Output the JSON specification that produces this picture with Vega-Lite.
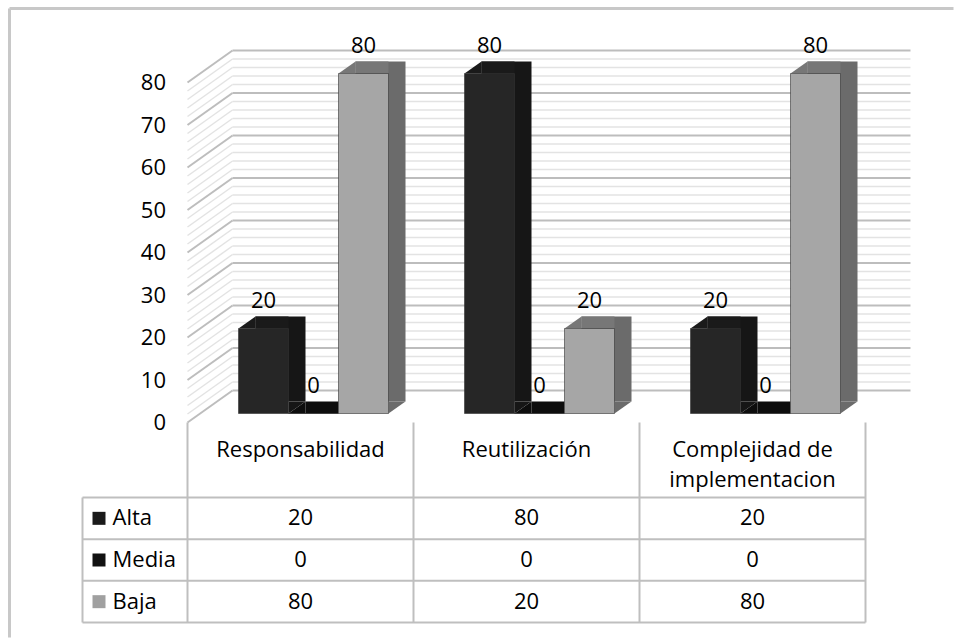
{
  "$schema": "https://vega.github.io/schema/vega-lite/v6.json",
  "padding": {"left": 7.5, "top": 6.5, "right": 0, "bottom": 0},
  "background": "white",
  "config": {"view": {"stroke": null}, "font": "Open Sans"},
  "datasets": {
    "scores": [
      {"category": "Responsabilidad", "series": "Alta", "value": 20},
      {"category": "Responsabilidad", "series": "Media", "value": 0},
      {"category": "Responsabilidad", "series": "Baja", "value": 80},
      {"category": "Reutilización", "series": "Alta", "value": 80},
      {"category": "Reutilización", "series": "Media", "value": 0},
      {"category": "Reutilización", "series": "Baja", "value": 20},
      {"category": "Complejidad de implementacion", "series": "Alta", "value": 20},
      {"category": "Complejidad de implementacion", "series": "Media", "value": 0},
      {"category": "Complejidad de implementacion", "series": "Baja", "value": 80}
    ],
    "grid": [
      {"g": 0}, {"g": 2}, {"g": 4}, {"g": 6}, {"g": 8}, {"g": 10}, {"g": 12}, {"g": 14}, {"g": 16}, {"g": 18},
      {"g": 20}, {"g": 22}, {"g": 24}, {"g": 26}, {"g": 28}, {"g": 30}, {"g": 32}, {"g": 34}, {"g": 36}, {"g": 38},
      {"g": 40}, {"g": 42}, {"g": 44}, {"g": 46}, {"g": 48}, {"g": 50}, {"g": 52}, {"g": 54}, {"g": 56}, {"g": 58},
      {"g": 60}, {"g": 62}, {"g": 64}, {"g": 66}, {"g": 68}, {"g": 70}, {"g": 72}, {"g": 74}, {"g": 76}, {"g": 78},
      {"g": 80}
    ]
  },
  "spacing": 75,
  "bounds": "flush",
  "vconcat": [
    {
      "width": 678,
      "height": 340,
      "resolve": {"scale": {"xOffset": "independent", "color": "independent"}},
      "layer": [
        {
          "data": {"name": "grid"},
          "mark": {"type": "rule", "xOffset": 45, "x2Offset": 45, "yOffset": -32},
          "encoding": {
            "x": {"datum": "Responsabilidad", "bandPosition": 0, "title": null,
              "scale": {"domain": ["Responsabilidad", "Reutilización", "Complejidad de implementacion"], "paddingInner": 0, "paddingOuter": 0},
              "axis": {"orient": "bottom", "domain": false, "ticks": false, "grid": false, "labelAngle": 0, "labelFontSize": 22, "labelColor": "#000000", "labelPadding": 17, "labelBaseline": "top", "labelLineHeight": 30, "labelLimit": 400,
                "labelExpr": "datum.value === 'Complejidad de implementacion' ? ['Complejidad de', 'implementacion'] : datum.value"}},
            "x2": {"datum": "Complejidad de implementacion", "bandPosition": 1},
            "y": {"field": "g", "type": "quantitative", "title": null,
              "scale": {"domain": [0, 80], "nice": false},
              "axis": {"values": [0, 10, 20, 30, 40, 50, 60, 70, 80], "domain": false, "ticks": false, "grid": false, "labelFontSize": 22, "labelColor": "#000000", "labelPadding": 22}},
            "color": {"condition": {"test": "datum.g % 10 === 0", "value": "#bdbdbd"}, "value": "#e3e3e3"},
            "strokeWidth": {"condition": {"test": "datum.g % 10 === 0", "value": 2}, "value": 1.5}
          }
        },
        {
          "data": {"name": "grid"},
          "mark": {"type": "rule", "x2Offset": 45, "y2Offset": -32},
          "encoding": {
            "x": {"datum": "Responsabilidad", "bandPosition": 0, "title": null},
            "x2": {"datum": "Responsabilidad", "bandPosition": 0},
            "y": {"field": "g", "type": "quantitative", "title": null},
            "y2": {"field": "g"},
            "color": {"condition": {"test": "datum.g % 10 === 0", "value": "#bdbdbd"}, "value": "#e3e3e3"},
            "strokeWidth": {"condition": {"test": "datum.g % 10 === 0", "value": 2}, "value": 1.5}
          }
        },
        {
          "data": {"name": "scores"},
          "mark": {"type": "bar", "yOffset": -21, "y2Offset": -21},
          "encoding": {
            "x": {"field": "category", "type": "nominal", "title": null},
            "xOffset": {"field": "series", "type": "nominal", "scale": {"domain": ["Alta", "Media", "Baja"], "range": [68, 218], "paddingInner": 0, "paddingOuter": 0}},
            "y": {"field": "value", "type": "quantitative", "title": null},
            "y2": {"datum": 0},
            "color": {"field": "series", "type": "nominal", "legend": null, "scale": {"domain": ["Alta", "Media", "Baja"], "range": ["#161616", "#0a0a0a", "#6b6b6b"]}}
          }
        },
        {
          "data": {"name": "scores"},
          "mark": {"type": "bar", "width": 33, "yOffset": -21, "y2Offset": -9},
          "encoding": {
            "x": {"field": "category", "type": "nominal", "title": null},
            "xOffset": {"field": "series", "type": "nominal", "scale": {"domain": ["Alta", "Media", "Baja"], "range": [59.5, 209.5], "paddingInner": 0, "paddingOuter": 0}},
            "y": {"field": "value", "type": "quantitative", "title": null},
            "y2": {"field": "value"},
            "color": {"field": "series", "type": "nominal", "legend": null, "scale": {"domain": ["Alta", "Media", "Baja"], "range": ["#1a1a1a", "#0d0d0d", "#777777"]}}
          }
        },
        {
          "data": {"name": "scores"},
          "transform": [{"filter": "datum.series === 'Alta'"}],
          "mark": {"type": "point", "shape": "M-1,0.706L1,-0.706L1,0.706Z", "size": 289, "filled": true, "opacity": 1, "strokeWidth": 0, "color": "#1a1a1a", "xOffset": 59.5, "yOffset": -15},
          "encoding": {
            "x": {"field": "category", "type": "nominal", "bandPosition": 0, "title": null},
            "y": {"field": "value", "type": "quantitative", "title": null}
          }
        },
        {
          "data": {"name": "scores"},
          "transform": [{"filter": "datum.series === 'Media'"}],
          "mark": {"type": "point", "shape": "M-1,0.706L1,-0.706L1,0.706Z", "size": 289, "filled": true, "opacity": 1, "strokeWidth": 0, "color": "#0d0d0d", "xOffset": 109.5, "yOffset": -15},
          "encoding": {
            "x": {"field": "category", "type": "nominal", "bandPosition": 0, "title": null},
            "y": {"field": "value", "type": "quantitative", "title": null}
          }
        },
        {
          "data": {"name": "scores"},
          "transform": [{"filter": "datum.series === 'Baja'"}],
          "mark": {"type": "point", "shape": "M-1,0.706L1,-0.706L1,0.706Z", "size": 289, "filled": true, "opacity": 1, "strokeWidth": 0, "color": "#777777", "xOffset": 159.5, "yOffset": -15},
          "encoding": {
            "x": {"field": "category", "type": "nominal", "bandPosition": 0, "title": null},
            "y": {"field": "value", "type": "quantitative", "title": null}
          }
        },
        {
          "data": {"name": "scores"},
          "transform": [{"filter": "datum.series === 'Alta'"}],
          "mark": {"type": "point", "shape": "M-1,-0.706L1,-0.706L-1,0.706Z", "size": 289, "filled": true, "opacity": 1, "strokeWidth": 0, "color": "#161616", "xOffset": 109.5, "yOffset": -15},
          "encoding": {
            "x": {"field": "category", "type": "nominal", "bandPosition": 0, "title": null},
            "y": {"datum": 0, "title": null}
          }
        },
        {
          "data": {"name": "scores"},
          "transform": [{"filter": "datum.series === 'Baja'"}],
          "mark": {"type": "point", "shape": "M-1,-0.706L1,-0.706L-1,0.706Z", "size": 289, "filled": true, "opacity": 1, "strokeWidth": 0, "color": "#6b6b6b", "xOffset": 209.5, "yOffset": -15},
          "encoding": {
            "x": {"field": "category", "type": "nominal", "bandPosition": 0, "title": null},
            "y": {"datum": 0, "title": null}
          }
        },
        {
          "data": {"name": "scores"},
          "mark": {"type": "bar", "yOffset": -9, "y2Offset": -9, "stroke": "#333333", "strokeWidth": 0.6},
          "encoding": {
            "x": {"field": "category", "type": "nominal", "title": null},
            "xOffset": {"field": "series", "type": "nominal", "scale": {"domain": ["Alta", "Media", "Baja"], "range": [51, 201], "paddingInner": 0, "paddingOuter": 0}},
            "y": {"field": "value", "type": "quantitative", "title": null},
            "y2": {"datum": 0},
            "color": {"field": "series", "type": "nominal", "legend": null, "scale": {"domain": ["Alta", "Media", "Baja"], "range": ["#262626", "#111111", "#a6a6a6"]}}
          }
        },
        {
          "data": {"name": "scores"},
          "transform": [{"filter": "datum.series === 'Alta'"}],
          "mark": {"type": "text", "xOffset": 76, "yOffset": -30, "fontSize": 22, "color": "#000000", "baseline": "alphabetic", "align": "center"},
          "encoding": {
            "x": {"field": "category", "type": "nominal", "bandPosition": 0, "title": null},
            "y": {"field": "value", "type": "quantitative", "title": null},
            "text": {"field": "value", "type": "quantitative"}
          }
        },
        {
          "data": {"name": "scores"},
          "transform": [{"filter": "datum.series === 'Media'"}],
          "mark": {"type": "text", "xOffset": 126, "yOffset": -30, "fontSize": 22, "color": "#000000", "baseline": "alphabetic", "align": "center"},
          "encoding": {
            "x": {"field": "category", "type": "nominal", "bandPosition": 0, "title": null},
            "y": {"field": "value", "type": "quantitative", "title": null},
            "text": {"field": "value", "type": "quantitative"}
          }
        },
        {
          "data": {"name": "scores"},
          "transform": [{"filter": "datum.series === 'Baja'"}],
          "mark": {"type": "text", "xOffset": 176, "yOffset": -30, "fontSize": 22, "color": "#000000", "baseline": "alphabetic", "align": "center"},
          "encoding": {
            "x": {"field": "category", "type": "nominal", "bandPosition": 0, "title": null},
            "y": {"field": "value", "type": "quantitative", "title": null},
            "text": {"field": "value", "type": "quantitative"}
          }
        },
        {
          "data": {"values": [{}]},
          "mark": {"type": "rule", "xOffset": -178, "x2Offset": 88, "yOffset": -74, "color": "#c8c8c8", "strokeWidth": 3},
          "encoding": {
            "x": {"datum": "Responsabilidad", "bandPosition": 0, "title": null},
            "x2": {"datum": "Complejidad de implementacion", "bandPosition": 1},
            "y": {"datum": 80, "title": null}
          }
        },
        {
          "data": {"values": [{}]},
          "mark": {"type": "rule", "xOffset": -178, "yOffset": -74, "y2Offset": 215, "color": "#c8c8c8", "strokeWidth": 3},
          "encoding": {
            "x": {"datum": "Responsabilidad", "bandPosition": 0, "title": null},
            "y": {"datum": 80, "title": null},
            "y2": {"datum": 0}
          }
        }
      ]
    },
    {
      "width": 678,
      "height": 125,
      "data": {"name": "scores"},
      "layer": [
        {
          "transform": [{"filter": "datum.category === 'Responsabilidad'"}],
          "mark": {"type": "rule", "xOffset": -105, "color": "#bfbfbf", "strokeWidth": 2},
          "encoding": {
            "y": {"field": "series", "type": "nominal", "bandPosition": 0, "title": null,
              "scale": {"domain": ["Alta", "Media", "Baja"], "paddingInner": 0, "paddingOuter": 0}, "axis": null},
            "x": {"datum": "Responsabilidad", "bandPosition": 0, "title": null,
              "scale": {"domain": ["Responsabilidad", "Reutilización", "Complejidad de implementacion"], "paddingInner": 0, "paddingOuter": 0}, "axis": null},
            "x2": {"datum": "Complejidad de implementacion", "bandPosition": 1}
          }
        },
        {
          "data": {"values": [{}]},
          "mark": {"type": "rule", "xOffset": -105, "color": "#bfbfbf", "strokeWidth": 2},
          "encoding": {
            "y": {"datum": "Baja", "bandPosition": 1, "title": null},
            "x": {"datum": "Responsabilidad", "bandPosition": 0, "title": null},
            "x2": {"datum": "Complejidad de implementacion", "bandPosition": 1}
          }
        },
        {
          "transform": [{"filter": "datum.series === 'Alta'"}],
          "mark": {"type": "rule", "yOffset": -75, "color": "#bfbfbf", "strokeWidth": 2},
          "encoding": {
            "x": {"field": "category", "type": "nominal", "bandPosition": 0, "title": null},
            "y": {"datum": "Alta", "bandPosition": 0, "title": null},
            "y2": {"datum": "Baja", "bandPosition": 1}
          }
        },
        {
          "data": {"values": [{}]},
          "mark": {"type": "rule", "yOffset": -75, "color": "#bfbfbf", "strokeWidth": 2},
          "encoding": {
            "x": {"datum": "Complejidad de implementacion", "bandPosition": 1, "title": null},
            "y": {"datum": "Alta", "bandPosition": 0, "title": null},
            "y2": {"datum": "Baja", "bandPosition": 1}
          }
        },
        {
          "data": {"values": [{}]},
          "mark": {"type": "rule", "xOffset": -105, "color": "#bfbfbf", "strokeWidth": 2},
          "encoding": {
            "x": {"datum": "Responsabilidad", "bandPosition": 0, "title": null},
            "y": {"datum": "Alta", "bandPosition": 0, "title": null},
            "y2": {"datum": "Baja", "bandPosition": 1}
          }
        },
        {
          "mark": {"type": "text", "fontSize": 22, "color": "#000000"},
          "encoding": {
            "x": {"field": "category", "type": "nominal", "title": null},
            "y": {"field": "series", "type": "nominal", "title": null},
            "text": {"field": "value", "type": "quantitative"}
          }
        },
        {
          "transform": [{"filter": "datum.category === 'Responsabilidad'"}],
          "mark": {"type": "point", "shape": "square", "size": 169, "filled": true, "opacity": 1, "strokeWidth": 0, "xOffset": -88.5},
          "encoding": {
            "x": {"datum": "Responsabilidad", "bandPosition": 0, "title": null},
            "y": {"field": "series", "type": "nominal", "title": null},
            "color": {"field": "series", "type": "nominal", "legend": null, "scale": {"domain": ["Alta", "Media", "Baja"], "range": ["#1a1a1a", "#111111", "#a0a0a0"]}}
          }
        },
        {
          "transform": [{"filter": "datum.category === 'Responsabilidad'"}],
          "mark": {"type": "text", "fontSize": 22, "color": "#000000", "align": "left", "xOffset": -75},
          "encoding": {
            "x": {"datum": "Responsabilidad", "bandPosition": 0, "title": null},
            "y": {"field": "series", "type": "nominal", "title": null},
            "text": {"field": "series", "type": "nominal"}
          }
        }
      ]
    }
  ]
}
